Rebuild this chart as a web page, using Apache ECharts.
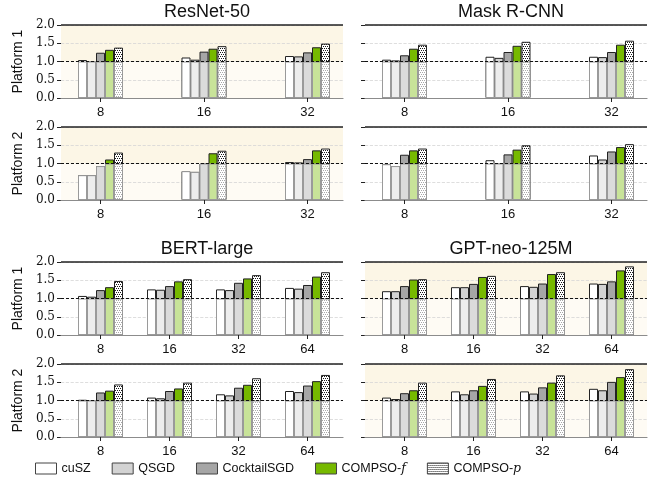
<!DOCTYPE html>
<html>
<head>
<meta charset="utf-8">
<script src="https://cdn.jsdelivr.net/npm/echarts@6/dist/echarts.min.js"></script>
<style>
  html, body { margin: 0; padding: 0; background: #fff; }
  #chart { width: 654px; height: 484px; }
</style>
</head>
<body>
<div id="chart"></div>
<script>
const methods = ["cuSZ", "QSGD", "CocktailSGD", "COMPSO-f", "COMPSO-p"];
const nodes3 = ["8", "16", "32"];
const nodes4 = ["8", "16", "32", "64"];

// rows follow methods, columns follow node counts
const resnetP1 = [
  [1.04, 1.11, 1.15],
  [1.0, 1.05, 1.14],
  [1.24, 1.27, 1.25],
  [1.32, 1.35, 1.39],
  [1.38, 1.42, 1.49]
];
const resnetP2 = [
  [0.68, 0.79, 1.04],
  [0.68, 0.77, 1.03],
  [0.93, 1.0, 1.12],
  [1.11, 1.28, 1.36],
  [1.3, 1.35, 1.41]
];
const maskP1 = [
  [1.05, 1.13, 1.13],
  [1.03, 1.1, 1.12],
  [1.17, 1.26, 1.26],
  [1.35, 1.43, 1.46],
  [1.46, 1.54, 1.57]
];
const maskP2 = [
  [0.98, 1.09, 1.22],
  [0.93, 1.0, 1.11],
  [1.24, 1.25, 1.33],
  [1.36, 1.38, 1.45],
  [1.41, 1.5, 1.53]
];
const bertP1 = [
  [1.07, 1.25, 1.25, 1.29],
  [1.05, 1.24, 1.23, 1.27],
  [1.23, 1.34, 1.43, 1.37],
  [1.31, 1.47, 1.55, 1.6],
  [1.48, 1.53, 1.64, 1.72]
];
const bertP2 = [
  [1.02, 1.08, 1.17, 1.26],
  [1.0, 1.06, 1.14, 1.23],
  [1.22, 1.26, 1.35, 1.41],
  [1.27, 1.33, 1.43, 1.53],
  [1.44, 1.49, 1.61, 1.7]
];
const gptP1 = [
  [1.2, 1.31, 1.34, 1.41],
  [1.2, 1.31, 1.32, 1.4],
  [1.34, 1.4, 1.41, 1.47],
  [1.52, 1.59, 1.67, 1.77],
  [1.53, 1.62, 1.72, 1.88]
];
const gptP2 = [
  [1.08, 1.25, 1.25, 1.32],
  [1.04, 1.17, 1.19, 1.28],
  [1.2, 1.28, 1.36, 1.51],
  [1.28, 1.4, 1.49, 1.64],
  [1.49, 1.59, 1.69, 1.86]
];

// dotted fill for COMPSO-p
const makeDots = (dot) => {
  const c = document.createElement("canvas");
  c.width = 4;
  c.height = 4;
  const ctx = c.getContext("2d");
  ctx.fillStyle = "#fff";
  ctx.fillRect(0, 0, 4, 4);
  ctx.fillStyle = dot;
  [[0, 0], [2, 0], [1, 2], [3, 2]].forEach(([x, y]) => ctx.fillRect(x, y, 1, 1));
  return { image: c, repeat: "repeat" };
};
const dotsDark = makeDots("#1a1a1a");
const dotsLight = makeDots("#a8a8a8");

const upperColors = ["#ffffff", "#d3d3d3", "#a6a6a6", "#76b900", dotsDark];
const lowerColors = ["#ffffff", "#ededed", "#dbdbdb", "#c8e399", dotsLight];

const colLeft = [61, 365];
const rowTop = [25, 127, 262, 364];
const panelW = 282;
const panelH = 73;

const panels = [
  { data: resnetP1, cats: nodes3, col: 0, row: 0, platform: "Platform 1", shade: true },
  { data: maskP1, cats: nodes3, col: 1, row: 0, shade: false },
  { data: resnetP2, cats: nodes3, col: 0, row: 1, platform: "Platform 2", shade: true },
  { data: maskP2, cats: nodes3, col: 1, row: 1, shade: false },
  { data: bertP1, cats: nodes4, col: 0, row: 2, platform: "Platform 1", shade: false },
  { data: gptP1, cats: nodes4, col: 1, row: 2, shade: true },
  { data: bertP2, cats: nodes4, col: 0, row: 3, platform: "Platform 2", shade: false },
  { data: gptP2, cats: nodes4, col: 1, row: 3, shade: true }
];

const titles = [
  { text: "ResNet-50", x: 202, y: -2 },
  { text: "Mask R-CNN", x: 506, y: -2 },
  { text: "BERT-large", x: 202, y: 235 },
  { text: "GPT-neo-125M", x: 506, y: 235 }
];

const grid = [];
const xAxis = [];
const yAxis = [];
const series = [];

panels.forEach((p, gi) => {
  const n = p.cats.length;
  const unit = n === 3 ? 103.5 : 69;
  const ticks = p.cats.map((c, i) => i);
  grid.push({ left: colLeft[p.col], top: rowTop[p.row], width: panelW, height: panelH, outerBoundsMode: "none" });

  // visible axis (lower parts) and a twin hidden axis (full bars) so both sets line up
  [true, false].forEach((visible) => {
    xAxis.push({
      gridIndex: gi,
      type: "value",
      min: -39.5 / unit,
      max: n - 1 + 35.5 / unit,
      show: visible,
      z: 3,
      axisLine: { show: true, onZero: false, lineStyle: { color: "#8c8c8c", width: 1.2 } },
      axisTick: { show: true, customValues: ticks, length: 4, lineStyle: { color: "#222" } },
      axisLabel: {
        customValues: ticks,
        formatter: (v) => p.cats[Math.round(v)],
        fontSize: 13,
        color: "#111",
        margin: 8
      },
      splitLine: { show: false }
    });
  });

  yAxis.push({
    gridIndex: gi,
    type: "value",
    min: 0,
    max: 2,
    interval: 0.5,
    z: 1.5,
    name: p.platform || "",
    nameLocation: "middle",
    nameGap: 36,
    nameTextStyle: { fontSize: 14, color: "#111" },
    axisLine: { show: false, onZero: false },
    axisTick: { show: true, length: 4, lineStyle: { color: "#222" } },
    axisLabel: {
      show: p.col === 0,
      formatter: (v) => v.toFixed(1),
      fontFamily: "DejaVu Serif",
      fontSize: 12,
      color: "#111",
      margin: 6
    },
    splitLine: { show: true, lineStyle: { type: "dashed", color: "#d6d6d6", width: 0.8 } }
  });

  methods.forEach((m, mi) => {
    const vals = p.data[mi];
    const full = {
      name: m,
      type: "bar",
      xAxisIndex: gi * 2 + 1,
      yAxisIndex: gi,
      barWidth: 9,
      barGap: "0%",
      z: 2,
      data: vals.map((v, i) => [i, v]),
      itemStyle: { color: upperColors[mi], borderColor: "#222", borderWidth: 1 },
      emphasis: { disabled: true }
    };
    const low = {
      name: m + " (below 1)",
      type: "bar",
      xAxisIndex: gi * 2,
      yAxisIndex: gi,
      barWidth: 9,
      barGap: "0%",
      z: 3,
      data: vals.map((v, i) => [i, Math.min(v, 1)]),
      itemStyle: { color: lowerColors[mi], borderColor: "#9a9a9a", borderWidth: 1 },
      emphasis: { disabled: true }
    };
    if (mi === 0) {
      low.markLine = {
        silent: true,
        symbol: "none",
        z: 6,
        label: { show: false },
        data: [
          { yAxis: 1, lineStyle: { type: [3, 2], color: "#111", width: 1 } },
          { yAxis: 2, lineStyle: { type: "solid", color: "#222", width: 1.5 } }
        ]
      };
      if (p.shade) {
        low.markArea = {
          silent: true,
          z: 1,
          data: [
            [{ yAxis: 0, itemStyle: { color: "#fefbf4" } }, { yAxis: 1 }],
            [{ yAxis: 1, itemStyle: { color: "#fcf6e6" } }, { yAxis: 2 }]
          ]
        };
      }
    }
    series.push(full, low);
  });
});

const option = {
  animation: false,
  textStyle: { fontFamily: "Liberation Sans" },
  title: titles.map((t) => ({
    text: t.text,
    left: t.x,
    top: t.y,
    textAlign: "center",
    textStyle: { fontSize: 18, fontWeight: "normal", color: "#111" }
  })),
  legend: {
    left: 30,
    top: 457,
    icon: "rect",
    itemWidth: 21,
    itemHeight: 11,
    itemGap: 21,
    itemStyle: { borderColor: "#444", borderWidth: 1 },
    textStyle: { fontSize: 12.5, color: "#111", rich: { i: { fontStyle: "italic", fontFamily: "DejaVu Serif", fontSize: 12.5 } } },
    formatter: (name) => (name.startsWith("COMPSO-") ? "COMPSO-{i|" + name.slice(7) + "}" : name),
    data: methods.map((m, mi) => ({ name: m, itemStyle: { color: upperColors[mi] } }))
  },
  grid,
  xAxis,
  yAxis,
  series
};

const myChart = echarts.init(document.getElementById("chart"), null, { renderer: "canvas" });
myChart.setOption(option);
</script>
</body>
</html>
